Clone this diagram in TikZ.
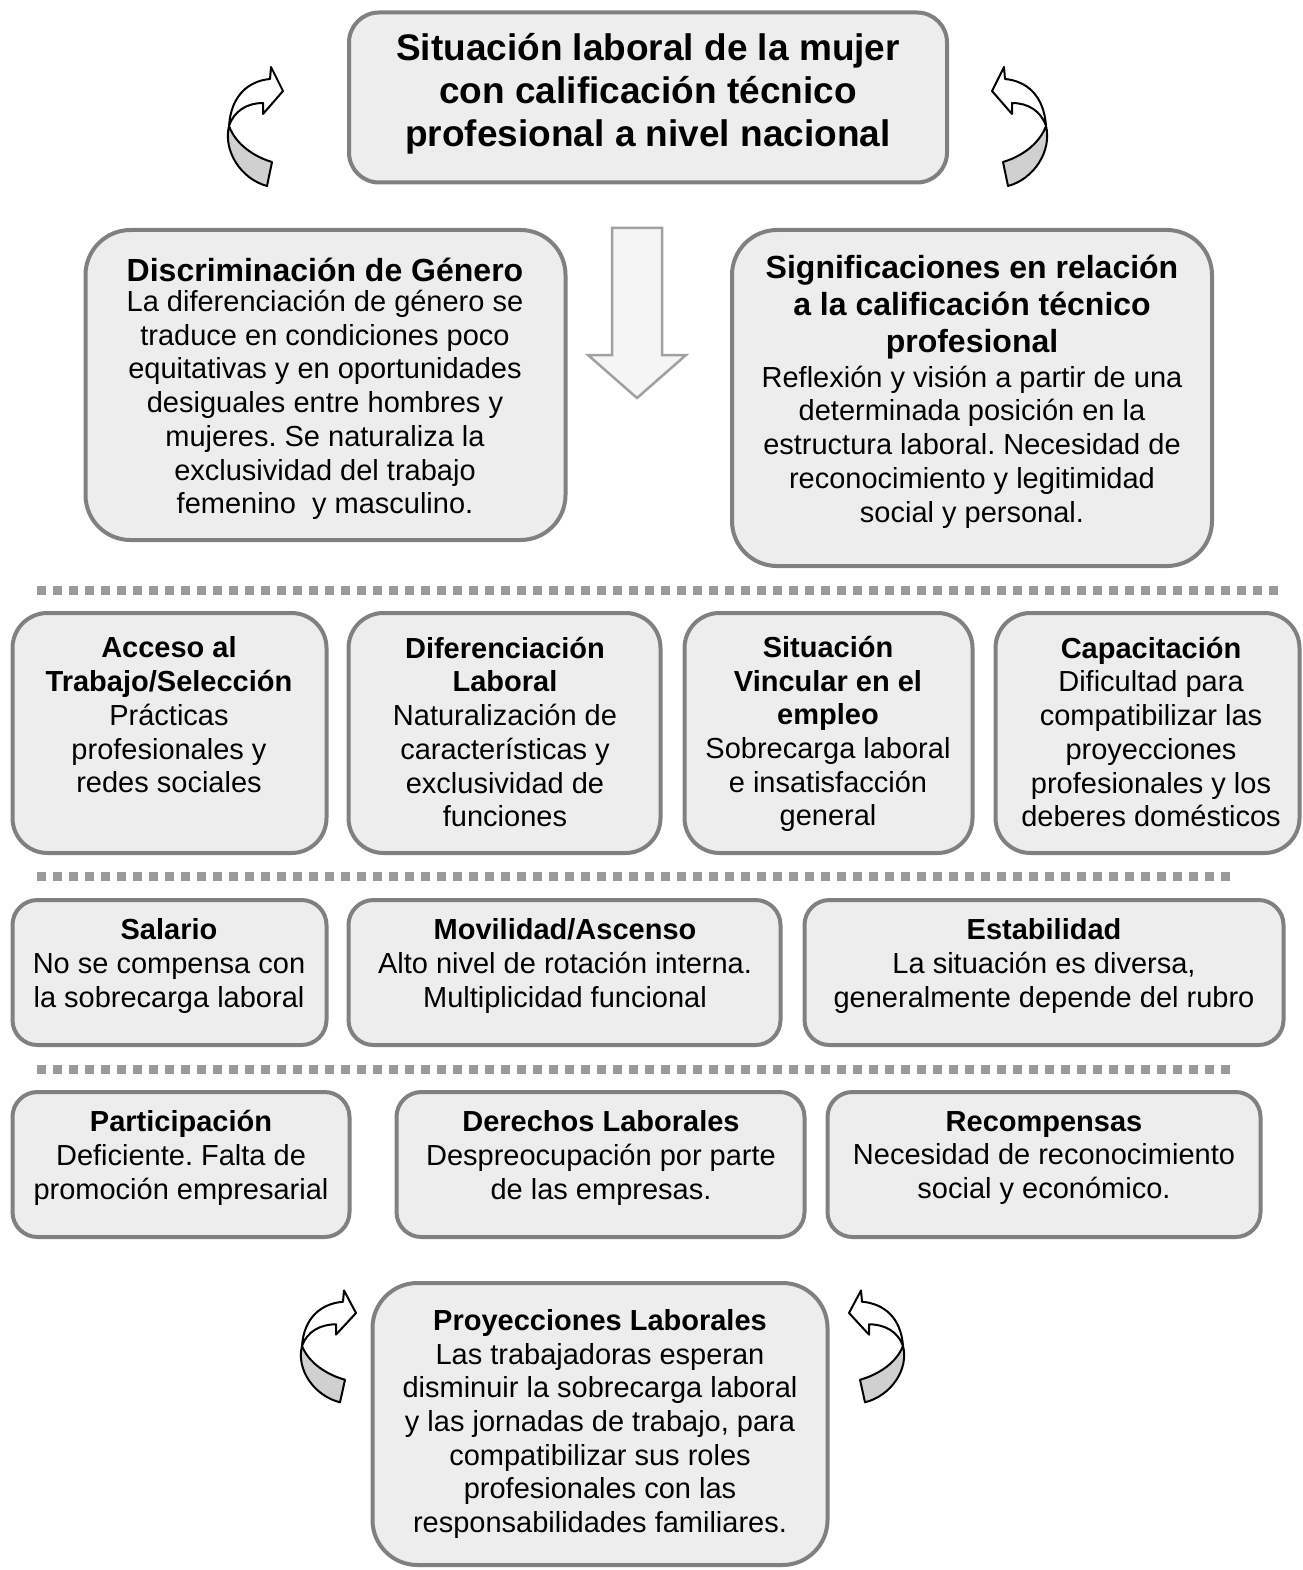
\documentclass[tikz,border=0pt]{standalone}
\usepackage{fontspec}
\setmainfont{Liberation Sans}
\frenchspacing
\definecolor{boxline}{HTML}{808080}
\definecolor{boxfill}{HTML}{EDEDED}
\definecolor{sepgray}{HTML}{9A9A9A}
\definecolor{twistgray}{HTML}{D0D0D0}
\definecolor{downline}{HTML}{A0A0A0}
\definecolor{downfill}{HTML}{F5F5F5}
\begin{document}
\begin{tikzpicture}[x=1pt,y=-1pt,
  box/.style={draw=boxline, line width=4pt, fill=boxfill, rounded corners=#1, inner sep=0pt},
  box/.default=35pt,
  txt/.style={align=center, inner sep=0pt, font=\fontsize{29}{33.7}\selectfont},
  head/.style={align=center, inner sep=0pt, font=\bfseries\fontsize{32}{37}\selectfont},
  ttl/.style={align=center, inner sep=0pt, font=\bfseries\fontsize{37}{43}\selectfont},
  sepline/.style={draw=sepgray, line width=9pt, dash pattern=on 9pt off 7pt},
  curvarrow/.pic={
    % back side of the twisted band
    \filldraw[fill=twistgray, draw=black, line width=2pt, line join=round]
      (-54,35) .. controls (-60,60) and (-42,88) .. (-16,95) -- (-11,71)
      .. controls (-28,66) and (-47,54) .. (-54,35) -- cycle;
    % front side with the arrow head
    \filldraw[fill=white, draw=black, line width=2pt, line join=round]
      (-54,35) .. controls (-52,5) and (-35,-10) .. (-13,-12) -- (-12,-24) -- (0,0)
      -- (-20,23) -- (-20,12) .. controls (-36,12) and (-49,20) .. (-54,35) -- cycle;
  }]
\useasboundingbox (0,0) rectangle (1302,1570);

% title
\node[box=30pt, minimum width=598pt, minimum height=170pt] (title) at (648,97.5) {};
\node[ttl] (title-t) at (648,94) {Situación laboral de la mujer\\con calificación técnico\\profesional a nivel nacional};

% turning arrows around the title
\pic at (283,91) {curvarrow};
\pic[xscale=-1] at (992,91) {curvarrow};

% main downward arrow
\draw[draw=downline, fill=downfill, line width=2.5pt, line join=miter]
  (612,228) -- (662,228) -- (662,355) -- (686,355) -- (637,398) -- (588,355) -- (612,355) -- cycle;

% upper pair of boxes
\node[box=45pt, minimum width=480pt, minimum height=310pt] (disc) at (325.5,385) {};
\node[head] (disc-h) at (325,270) {Discriminación de Género};
\node[txt] (disc-t) at (325,405) {La diferenciación de género se\\traduce en condiciones poco\\equitativas y en oportunidades\\desiguales entre hombres y\\mujeres. Se naturaliza la\\exclusividad del trabajo\\femenino\ \ y masculino.};

\node[box=45pt, minimum width=480pt, minimum height=336pt] (sig) at (972,398) {};
\node[head] (sig-h) at (972,307) {Significaciones en relación\\a la calificación técnico\\profesional};
\node[txt] (sig-t) at (972,447) {Reflexión y visión a partir de una\\determinada posición en la\\estructura laboral. Necesidad de\\reconocimiento y legitimidad\\social y personal.};

\draw[sepline] (37,590) -- (1280,590);

% second row
\node[box, minimum width=314pt, minimum height=240pt] (acc) at (169.5,733) {};
\node[txt] (acc-t) at (169,715) {\textbf{Acceso al}\\\textbf{Trabajo/Selección}\\Prácticas\\profesionales y\\redes sociales};

\node[box, minimum width=312pt, minimum height=240pt] (dif) at (504.5,733) {};
\node[txt] (dif-t) at (505,732) {\textbf{Diferenciación}\\\textbf{Laboral}\\Naturalización de\\características y\\exclusividad de\\funciones};

\node[box, minimum width=288pt, minimum height=240pt] (vin) at (828.5,733) {};
\node[txt] (vin-t) at (828,734) {\textbf{Situación}\\\textbf{Vincular en el}\\\textbf{empleo}\\Sobrecarga laboral\\e insatisfacción\\general};

\node[box, minimum width=304pt, minimum height=240pt] (cap) at (1147.5,733) {};
\node[txt] (cap-t) at (1151,732) {\textbf{Capacitación}\\Dificultad para\\compatibilizar las\\proyecciones\\profesionales y los\\deberes domésticos};

\draw[sepline] (37,876) -- (1232,876);

% third row
\node[box=25pt, minimum width=314pt, minimum height=145pt] (sal) at (169.5,972.5) {};
\node[txt] (sal-t) at (169,966) {\textbf{Salario}\\No se compensa con\\la sobrecarga laboral};

\node[box=25pt, minimum width=432pt, minimum height=145pt] (mov) at (564.5,972.5) {};
\node[txt] (mov-t) at (565,966) {\textbf{Movilidad/Ascenso}\\Alto nivel de rotación interna.\\Multiplicidad funcional};

\node[box=25pt, minimum width=479pt, minimum height=145pt] (est) at (1044,972.5) {};
\node[txt] (est-t) at (1044,966) {\textbf{Estabilidad}\\La situación es diversa,\\generalmente depende del rubro};

\draw[sepline] (37,1069) -- (1232,1069);

% fourth row
\node[box=25pt, minimum width=337pt, minimum height=145pt] (par) at (181,1164.5) {};
\node[txt] (par-t) at (181,1158) {\textbf{Participación}\\Deficiente. Falta de\\promoción empresarial};

\node[box=25pt, minimum width=408pt, minimum height=145pt] (der) at (600.5,1164.5) {};
\node[txt] (der-t) at (601,1158) {\textbf{Derechos Laborales}\\Despreocupación por parte\\de las empresas.};

\node[box=25pt, minimum width=433pt, minimum height=145pt] (rec) at (1044,1164.5) {};
\node[txt] (rec-t) at (1044,1158) {\textbf{Recompensas}\\Necesidad de reconocimiento\\social y económico.};

% closing box
\node[box=45pt, minimum width=455pt, minimum height=282pt] (pro) at (600,1424) {};
\node[txt] (pro-t) at (600,1424) {\textbf{Proyecciones Laborales}\\Las trabajadoras esperan\\disminuir la sobrecarga laboral\\y las jornadas de trabajo, para\\compatibilizar sus roles\\profesionales con las\\responsabilidades familiares.};

% turning arrows around the closing box
\pic[yscale=0.94] at (356,1313) {curvarrow};
\pic[xscale=-1, yscale=0.94] at (849,1313) {curvarrow};
\end{tikzpicture}
\end{document}
